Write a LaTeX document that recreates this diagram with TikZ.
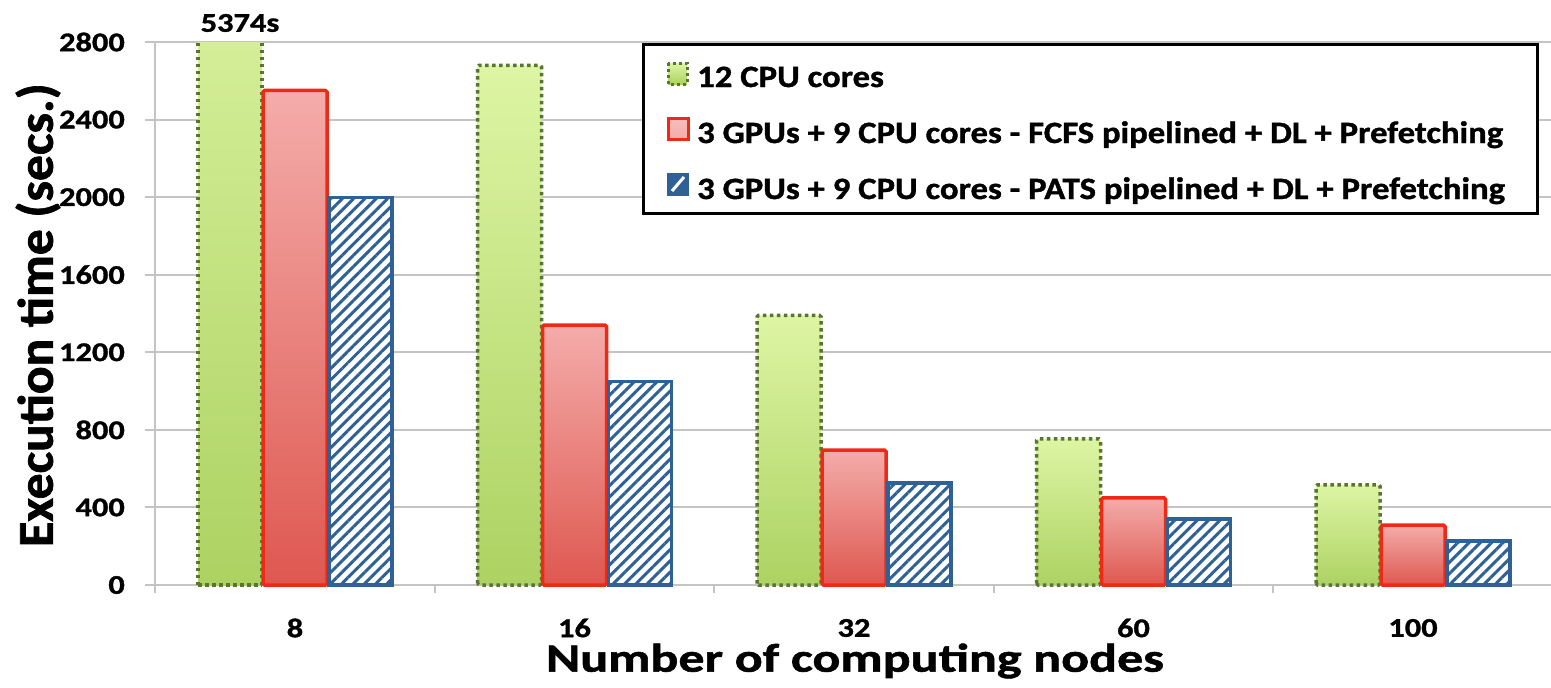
\documentclass[tikz,border=0pt]{standalone}
\usepackage{fontspec}
\newfontfamily\tickfont{Carlito}[FakeStretch=1.2, BoldFeatures={FakeBold=1.2}]
\newfontfamily\legendfont{Carlito}[FakeStretch=1.12, BoldFeatures={FakeBold=1.2}]
\newfontfamily\titlefont{Carlito}[FakeStretch=1.3, BoldFeatures={FakeBold=1.4}]
\newfontfamily\ytitlefont{Carlito}[FakeStretch=1.03, BoldFeatures={FakeBold=1.4}]
\usetikzlibrary{patterns.meta}

\definecolor{gridgray}{HTML}{C4C4C4}
\definecolor{cpuedge}{HTML}{587632}
\definecolor{cputop}{HTML}{DDF5A4}
\definecolor{cpubot}{HTML}{ADD262}
\definecolor{fcfsedge}{HTML}{EE2A17}
\definecolor{fcfstop}{HTML}{F4ACAA}
\definecolor{fcfsbot}{HTML}{DE5850}
\definecolor{patsedge}{HTML}{2F6196}

\tikzset{
  gridrule/.style={draw=gridgray, line width=2pt},
  cpuline/.style={draw=cpuedge, line width=3.5pt, dash pattern=on 3.5pt off 3.5pt},
  cpubar/.style={cpuline, top color=cputop, bottom color=cpubot, rounded corners=1.5pt},
  fcfsbar/.style={draw=fcfsedge, line width=3.5pt,
    top color=fcfstop, bottom color=fcfsbot, rounded corners=1.5pt},
  patsbar/.style={draw=patsedge, line width=3.2pt, preaction={fill=white},
    pattern={Lines[angle=45,distance=8pt,line width=3pt]}, pattern color=patsedge},
  ticklabel/.style={font=\tickfont\bfseries\fontsize{27}{30}\selectfont, inner sep=0pt},
  legendtext/.style={font=\legendfont\bfseries\fontsize{31}{34}\selectfont, inner sep=0pt, anchor=base west},
  xaxistitle/.style={font=\titlefont\bfseries\fontsize{40}{44}\selectfont, inner sep=0pt},
  yaxistitle/.style={font=\ytitlefont\bfseries\fontsize{50}{54}\selectfont, inner sep=0pt, rotate=90},
}

% value (s) -> vertical position; zero line at 585, 2800 s at 42
\newcommand{\vpos}[1]{585-#1*0.193929}

\begin{document}
\begin{tikzpicture}[x=1pt, y=-1pt]
  \useasboundingbox (0,0) rectangle (1551,688);
  \fill[white] (0,0) rectangle (1551,688);

  % horizontal grid and value ticks
  \foreach \v in {400,800,...,2800}
    \draw[gridrule] (145,{\vpos{\v}}) -- (1551,{\vpos{\v}});
  \foreach \v in {0,400,...,2800}
    \node[ticklabel, anchor=east] (yl\v) at (125,{\vpos{\v}}) {\v};

  % axes
  \draw[gridrule] (155,42) -- (155,593);
  \draw[gridrule] (145,585) -- (1551,585);
  \foreach \i in {0,...,5}
    \draw[gridrule] ({155+279.5*\i},585) -- ({155+279.5*\i},593);

  % bars: center, cpu, fcfs, pats
  \foreach \c/\g/\r/\b [count=\k] in {295/5374/2550/2000, 574.5/2680/1340/1050,
        854/1390/696/526, 1133.5/753/449/340, 1413/516/309/227} {
    \ifnum\k=1
      % 12-core bar runs beyond the axis range: cut at 2800
      \shade[top color=cputop!80!cpubot, bottom color=cpubot] (\c-97,585) rectangle (\c-33,42);
      \draw[cpuline] (\c-97,585) -- (\c-97,42);
      \draw[cpuline] (\c-33,585) -- (\c-33,42);
      \draw[cpuline] (\c-97,585) -- (\c-33,585);
    \else
      \path[cpubar] (\c-97,585) rectangle (\c-33,{\vpos{\g}});
    \fi
    \path[fcfsbar] (\c-32,585) rectangle (\c+32,{\vpos{\r}});
    \path[patsbar] (\c+34,585) rectangle (\c+97,{\vpos{\b}});
  }
  \node[ticklabel] (peak) at (240,23) {5374s};

  % category labels
  \foreach \c/\n in {295/8, 574.5/16, 854/32, 1133.5/60, 1413/100}
    \node[ticklabel] (xl\n) at (\c,628) {\n};

  % axis titles
  \node[xaxistitle] (xtitle) at (855,661) {Number of computing nodes};
  \node[yaxistitle] (ytitle) at (38,315) {Execution time (secs.)};

  % legend
  \node[draw=black, line width=3pt, fill=white, minimum width=894pt, minimum height=169pt,
        inner sep=0pt] (legend) at (1090,128.5) {};
  \path[draw=cpuedge, line width=3pt, dash pattern=on 3pt off 3pt,
        top color=cputop, bottom color=cpubot] (668,63) rectangle (687,84);
  \path[draw=fcfsedge, line width=3pt, top color=fcfstop!80!white, bottom color=fcfstop]
        (668,118) rectangle (688,139);
  \fill[patsedge] (667,173) rectangle (689,196);
  \draw[white, line width=3pt] (672,191) -- (684,177);
  \node[legendtext] (lg1) at (697,87) {12 CPU cores};
  \node[legendtext] (lg2) at (697,143) {3 GPUs + 9 CPU cores - FCFS pipelined + DL + Prefetching};
  \node[legendtext] (lg3) at (697,199) {3 GPUs + 9 CPU cores - PATS pipelined + DL + Prefetching};
\end{tikzpicture}
\end{document}
